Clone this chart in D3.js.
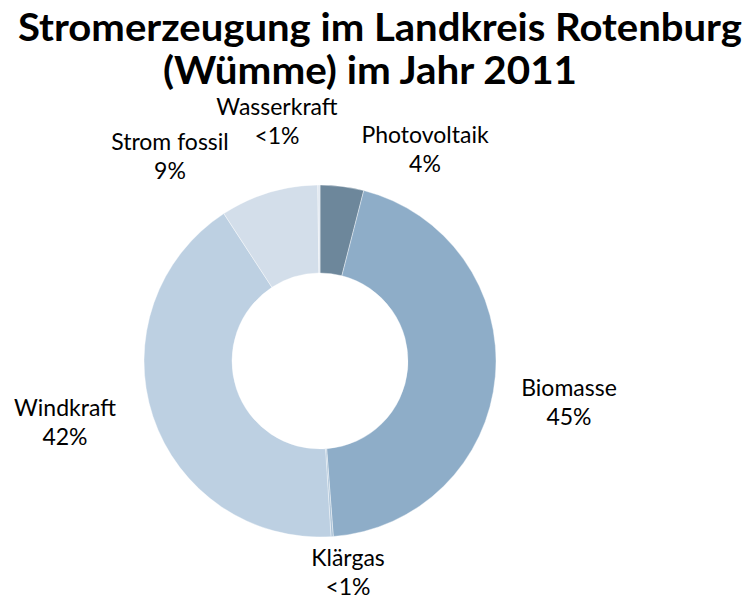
<!DOCTYPE html>
<html>
<head>
<meta charset="utf-8">
<script src="https://cdn.jsdelivr.net/npm/d3@7"></script>
<style>
  body { margin: 0; background: #fff; }
  text { font-family: Lato, "DejaVu Sans", sans-serif; fill: #000; }
</style>
</head>
<body>
<div id="chart"></div>
<script>
// data (share of electricity generation, %)
var categories = ["Photovoltaik", "Biomasse", "Klärgas", "Windkraft", "Strom fossil", "Wasserkraft"];
var values = [4.0, 44.8, 0.2, 41.8, 9.0, 0.2];
var valueLabels = ["4%", "45%", "<1%", "42%", "9%", "<1%"];
var titleLines = ["Stromerzeugung im Landkreis Rotenburg", "(Wümme) im Jahr 2011"];

var width = 746, height = 601;
var cx = 320, cy = 361, outerR = 176, innerR = 88;

var colors = d3.scaleOrdinal()
    .domain(categories)
    .range(["#6d879b", "#8eadc8", "#a9c1d6", "#bdd0e2", "#d3deea", "#dfe7f0"]);

// label anchor points (center of the two-line label, first baseline)
var labelPos = {
  "Photovoltaik": [425, 143],
  "Biomasse":     [569, 396],
  "Klärgas":      [348, 566],
  "Windkraft":    [65, 416],
  "Strom fossil": [170, 150],
  "Wasserkraft":  [277, 115]
};

var svg = d3.select("#chart").append("svg")
    .attr("width", width)
    .attr("height", height)
    .style("background-color", "white");

// title
svg.append("text")
    .attr("x", 380).attr("y", 41)
    .attr("text-anchor", "middle")
    .attr("textLength", 724).attr("lengthAdjust", "spacingAndGlyphs")
    .style("font-size", "39px").style("font-weight", "bold")
    .text(titleLines[0]);
svg.append("text")
    .attr("x", 370).attr("y", 84)
    .attr("text-anchor", "middle")
    .attr("textLength", 414).attr("lengthAdjust", "spacingAndGlyphs")
    .style("font-size", "39px").style("font-weight", "bold")
    .text(titleLines[1]);

var data = categories.map(function(c, i) { return {name: c, value: values[i], label: valueLabels[i]}; });

var pie = d3.pie()
    .sort(null)
    .value(function(d) { return d.value; });

var arc = d3.arc()
    .innerRadius(innerR)
    .outerRadius(outerR);

var g = svg.append("g")
    .attr("transform", "translate(" + cx + "," + cy + ")");

g.selectAll("path")
  .data(pie(data))
  .enter().append("path")
    .attr("d", arc)
    .attr("fill", function(d) { return colors(d.data.name); })
    .attr("stroke", "#ffffff")
    .attr("stroke-width", 0.4);

var labels = svg.append("g").selectAll("text")
  .data(data)
  .enter().append("text")
    .attr("text-anchor", "middle")
    .attr("x", function(d) { return labelPos[d.name][0]; })
    .attr("y", function(d) { return labelPos[d.name][1]; })
    .style("font-size", "23px");

labels.append("tspan")
    .attr("x", function(d) { return labelPos[d.name][0]; })
    .text(function(d) { return d.name; });
labels.append("tspan")
    .attr("x", function(d) { return labelPos[d.name][0]; })
    .attr("dy", 29)
    .text(function(d) { return d.label; });
</script>
</body>
</html>
